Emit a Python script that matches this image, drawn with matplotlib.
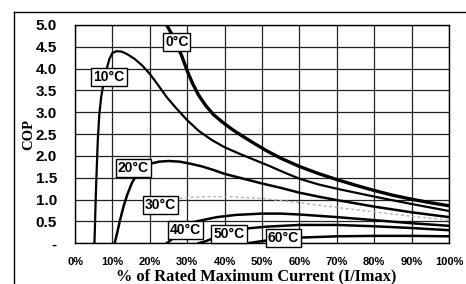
import matplotlib.pyplot as plt
from matplotlib.lines import Line2D

# % of rated max current vs COP, one curve per delta T
pct_0 = [24.5, 25.5, 27, 28.5, 30, 31.5, 33, 35, 37, 39.5, 42, 44.5, 47.5, 51, 55, 60, 65, 70, 75, 80, 85, 90, 95, 100]
cop_0 = [5.0, 4.85, 4.6, 4.3, 3.95, 3.65, 3.4, 3.15, 2.95, 2.77, 2.61, 2.47, 2.31, 2.13, 1.95, 1.76, 1.6, 1.46, 1.33, 1.21, 1.1, 1.01, 0.93, 0.86]

pct_10 = [5.2, 5.4, 5.6, 5.85, 6.1, 6.5, 7.0, 7.6, 8.3, 9.2, 10.0, 11.1, 12.5, 14, 16, 18, 20, 22, 24.5, 27, 30,
          33, 36.5, 40, 44, 48, 52, 56, 60, 65, 70, 80, 90, 100]
cop_10 = [0.0, 0.6, 1.2, 1.8, 2.37, 2.95, 3.35, 3.65, 3.95, 4.22, 4.36, 4.4, 4.39, 4.33, 4.22, 4.07, 3.88, 3.65, 3.35, 3.1, 2.82,
          2.58, 2.37, 2.2, 2.05, 1.91, 1.77, 1.62, 1.48, 1.35, 1.25, 1.07, 0.9, 0.74]

pct_20 = [10.6, 11.3, 12.1, 13, 14, 15.2, 16.5, 18, 20, 22.5, 25, 28, 31, 34, 37, 40, 45, 50, 55, 60, 65, 70, 80, 90, 100]
cop_20 = [0.0, 0.25, 0.55, 0.85, 1.12, 1.38, 1.58, 1.72, 1.82, 1.87, 1.885, 1.87, 1.82, 1.76, 1.68, 1.59, 1.48, 1.37, 1.27, 1.16, 1.07, 0.99, 0.84, 0.71, 0.6]

pct_30 = [21, 25, 30, 35, 40, 45, 50, 55, 60, 70, 80, 90, 100]
cop_30 = [0.85, 1.0, 1.05, 1.07, 1.07, 1.05, 1.03, 0.98, 0.93, 0.82, 0.72, 0.62, 0.53]

pct_40 = [24.5, 26, 28, 30, 34, 38, 43, 50, 55, 60, 70, 80, 90, 100]
cop_40 = [0.0, 0.1, 0.3, 0.45, 0.53, 0.6, 0.65, 0.68, 0.68, 0.66, 0.6, 0.53, 0.46, 0.40]

pct_50 = [33, 35, 38, 42, 46, 51, 60, 70, 80, 90, 100]
cop_50 = [0.0, 0.05, 0.15, 0.27, 0.34, 0.38, 0.42, 0.42, 0.39, 0.35, 0.30]

pct_60 = [46, 50, 55, 60, 70, 80, 90, 100]
cop_60 = [0.0, 0.05, 0.1, 0.13, 0.16, 0.17, 0.17, 0.16]

y_ticks = [0, 0.5, 1.0, 1.5, 2.0, 2.5, 3.0, 3.5, 4.0, 4.5, 5.0]
y_tick_labels = ['-', '0.5', '1.0', '1.5', '2.0', '2.5', '3.0', '3.5', '4.0', '4.5', '5.0']
x_ticks = [0, 10, 20, 30, 40, 50, 60, 70, 80, 90, 100]
x_tick_labels = [f'{v}%' for v in x_ticks]

fig = plt.figure(figsize=(4.66, 2.84), dpi=100)
ax = fig.add_axes([75 / 466, 1 - 243.3 / 284, (449 - 75) / 466, (243.3 - 25) / 284])

# outer chart frame (left and top edges visible)
fig.add_artist(Line2D([14 / 466, 14 / 466], [0, 1 - 12 / 284], color='black', lw=1.0))
fig.add_artist(Line2D([14 / 466, 1], [1 - 12 / 284, 1 - 12 / 284], color='black', lw=1.0))

ax.plot(pct_0, cop_0, color='black', lw=2.4, zorder=3)
ax.plot(pct_10, cop_10, color='black', lw=1.6, zorder=3)
ax.plot(pct_20, cop_20, color='black', lw=1.8, zorder=3)
ax.plot(pct_30, cop_30, color='#b0b0b0', lw=1.0, ls=(0, (2, 2)), zorder=3)
ax.plot(pct_40, cop_40, color='black', lw=1.8, zorder=3)
ax.plot(pct_50, cop_50, color='black', lw=1.8, zorder=3)
ax.plot(pct_60, cop_60, color='black', lw=1.8, zorder=3)

labels = [('0°C', 27.2, 4.62), ('10°C', 9.1, 3.80), ('20°C', 15.6, 1.72), ('30°C', 22.9, 0.88),
          ('40°C', 29.6, 0.30), ('50°C', 41.2, 0.21), ('60°C', 55.7, 0.13)]
for txt, lx, ly in labels:
    ax.text(lx, ly, txt, ha='center', va='center', fontsize=10, fontweight='bold',
            family='Liberation Sans', zorder=5,
            bbox=dict(boxstyle='square,pad=0.15', fc='white', ec='black', lw=1.0))

ax.set_xlim(0, 100)
ax.set_ylim(0, 5)
ax.set_xticks(x_ticks)
ax.set_xticklabels(x_tick_labels, fontsize=8, fontweight='bold', family='Liberation Sans')
ax.set_yticks(y_ticks)
ax.set_yticklabels(y_tick_labels, fontsize=11, fontweight='bold', family='Liberation Sans')
ax.tick_params(axis='y', length=0, pad=13)
ax.tick_params(axis='x', length=0, pad=10)
ax.grid(True, color='#222222', lw=0.9)
ax.set_axisbelow(True)
for s in ax.spines.values():
    s.set_color('black')
    s.set_linewidth(1.0)

ax.set_ylabel('COP', fontsize=10.5, fontweight='bold', family='Liberation Serif')
ax.yaxis.set_label_coords(-0.107, 0.5)
ax.set_xlabel('% of Rated Maximum Current (I/Imax)', fontsize=11.8, fontweight='bold',
              family='Liberation Serif')
ax.xaxis.set_label_coords(0.485, -0.115)

fig.savefig('out.png', dpi=100)
